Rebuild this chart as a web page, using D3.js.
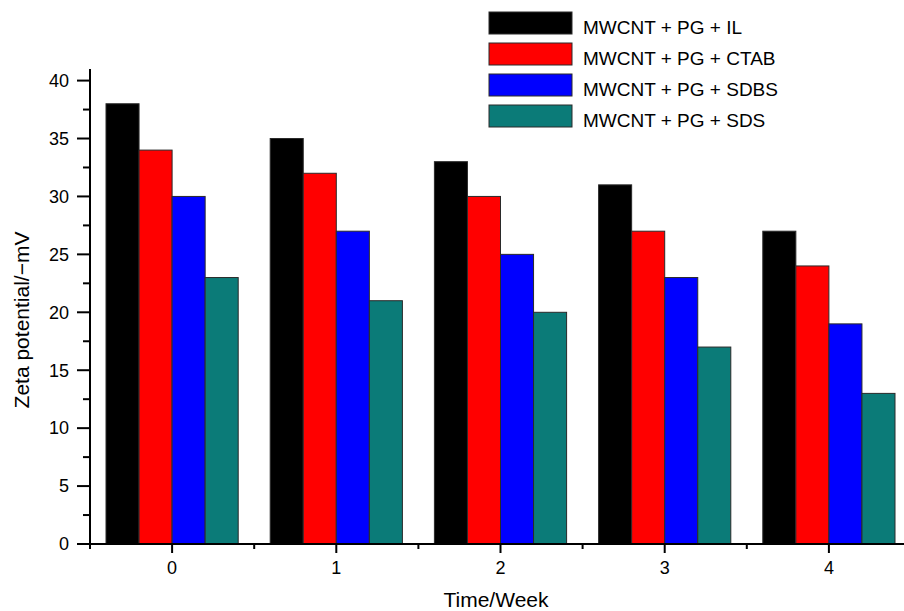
<!DOCTYPE html>
<html>
<head>
<meta charset="utf-8">
<script src="https://cdn.jsdelivr.net/npm/d3@7"></script>
<style>
  body { margin: 0; background: #fff; }
  svg text { font-family: "Liberation Sans", Arial, sans-serif; fill: #000; }
</style>
</head>
<body>
<script>
'use strict';

var width = 904,
    height = 611;

// data
var weeks = ["0", "1", "2", "3", "4"];
var seriesNames = ["MWCNT + PG + IL", "MWCNT + PG + CTAB", "MWCNT + PG + SDBS", "MWCNT + PG + SDS"];
var ilValues   = [38, 35, 33, 31, 27];
var ctabValues = [34, 32, 30, 27, 24];
var sdbsValues = [30, 27, 25, 23, 19];
var sdsValues  = [23, 21, 20, 17, 13];
var yTicks = [0, 5, 10, 15, 20, 25, 30, 35, 40];

var colors = ["#000000", "#ff0000", "#0000ff", "#0b7b78"];
var allValues = [ilValues, ctabValues, sdbsValues, sdsValues];

var svg = d3.select("body").append("svg")
  .attr("width", width)
  .attr("height", height);

var x0 = d3.scaleBand()
  .domain(weeks)
  .range([90, 911])
  .paddingInner(0.2)
  .paddingOuter(0.1);

// group step so each group is 4 bars wide with a gap
var step = x0.step();
var xGroup = d3.scalePoint().domain(weeks).range([90 + step / 2, 911 - step / 2]);
var groupW = step - 32;
var x1 = d3.scaleBand()
  .domain(d3.range(seriesNames.length))
  .range([-groupW / 2, groupW / 2]);

var y = d3.scaleLinear()
  .domain([0, 41])
  .range([544, 69]);

// bars
var groups = svg.selectAll("g.week")
  .data(weeks)
  .enter().append("g")
  .attr("class", "week")
  .attr("transform", function(d) { return "translate(" + xGroup(d) + ",0)"; });

groups.selectAll("rect")
  .data(function(d, i) {
    return allValues.map(function(vals, s) { return {s: s, v: vals[i]}; });
  })
  .enter().append("rect")
  .attr("x", function(d) { return x1(d.s); })
  .attr("width", x1.bandwidth())
  .attr("y", function(d) { return y(d.v); })
  .attr("height", function(d) { return y(0) - y(d.v); })
  .attr("fill", function(d) { return colors[d.s]; })
  .attr("stroke", "#2a2a2a")
  .attr("stroke-width", 1);

// y axis
var yAxis = svg.append("g")
  .attr("transform", "translate(90,0)");
yAxis.append("line")
  .attr("x1", 0).attr("x2", 0)
  .attr("y1", y(41)).attr("y2", y(0) + 1)
  .attr("stroke", "#000").attr("stroke-width", 2);
yAxis.selectAll("line.major")
  .data(yTicks)
  .enter().append("line")
  .attr("class", "major")
  .attr("x1", -13).attr("x2", 0)
  .attr("y1", function(d) { return y(d); })
  .attr("y2", function(d) { return y(d); })
  .attr("stroke", "#000").attr("stroke-width", 2);
yAxis.selectAll("line.minor")
  .data(yTicks.slice(0, -1).map(function(d) { return d + 2.5; }))
  .enter().append("line")
  .attr("class", "minor")
  .attr("x1", -7).attr("x2", 0)
  .attr("y1", function(d) { return y(d); })
  .attr("y2", function(d) { return y(d); })
  .attr("stroke", "#000").attr("stroke-width", 2);
yAxis.selectAll("text")
  .data(yTicks)
  .enter().append("text")
  .attr("x", -21)
  .attr("y", function(d) { return y(d); })
  .attr("dy", "0.35em")
  .attr("text-anchor", "end")
  .style("font-size", "18px")
  .text(function(d) { return d; });

// x axis
var xAxis = svg.append("g")
  .attr("transform", "translate(0," + y(0) + ")");
xAxis.append("line")
  .attr("x1", 77).attr("x2", 911)
  .attr("y1", 0).attr("y2", 0)
  .attr("stroke", "#000").attr("stroke-width", 2);
xAxis.selectAll("line.major")
  .data(weeks)
  .enter().append("line")
  .attr("class", "major")
  .attr("x1", function(d) { return xGroup(d); })
  .attr("x2", function(d) { return xGroup(d); })
  .attr("y1", 0).attr("y2", 9)
  .attr("stroke", "#000").attr("stroke-width", 2);
xAxis.selectAll("line.minor")
  .data(weeks)
  .enter().append("line")
  .attr("class", "minor")
  .attr("x1", function(d) { return xGroup(d) - step / 2; })
  .attr("x2", function(d) { return xGroup(d) - step / 2; })
  .attr("y1", 0).attr("y2", 5)
  .attr("stroke", "#000").attr("stroke-width", 2);
xAxis.selectAll("text")
  .data(weeks)
  .enter().append("text")
  .attr("x", function(d) { return xGroup(d); })
  .attr("y", 30)
  .attr("text-anchor", "middle")
  .style("font-size", "18px")
  .text(function(d) { return d; });

// axis titles
svg.append("text")
  .attr("x", 496)
  .attr("y", 607)
  .attr("text-anchor", "middle")
  .style("font-size", "21px")
  .text("Time/Week");

svg.append("text")
  .attr("transform", "translate(29,320) rotate(-90)")
  .attr("text-anchor", "middle")
  .style("font-size", "21px")
  .text("Zeta potential/\u2212mV");

// legend
var legend = svg.selectAll("g.legend")
  .data(seriesNames)
  .enter().append("g")
  .attr("class", "legend")
  .attr("transform", function(d, i) { return "translate(489," + (12 + i * 31) + ")"; });
legend.append("rect")
  .attr("width", 83)
  .attr("height", 22)
  .attr("fill", function(d, i) { return colors[i]; })
  .attr("stroke", "#2a2a2a")
  .attr("stroke-width", 1);
legend.append("text")
  .attr("x", 94)
  .attr("y", 22)
  .style("font-size", "19px")
  .text(function(d) { return d; });
</script>
</body>
</html>
